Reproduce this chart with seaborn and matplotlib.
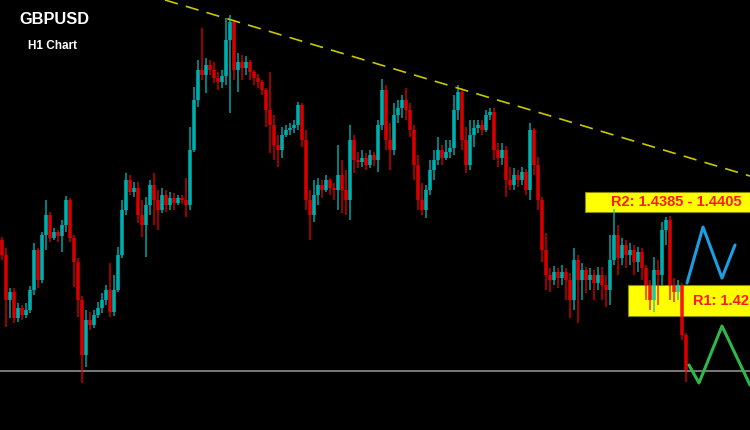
import numpy as np
import pandas as pd
import matplotlib
matplotlib.use("Agg")
import matplotlib.pyplot as plt
import seaborn as sns

# ---------------- data (GBPUSD H1) ----------------
first_open = 1.4360
closes = [
    1.4345, 1.4300, 1.4308, 1.4282, 1.4292, 1.4285, 1.4290, 1.4310, 1.4350, 1.4320,
    1.4365, 1.4385, 1.4362, 1.4368, 1.4364, 1.4375, 1.4400, 1.4362, 1.4338, 1.4300,
    1.4245, 1.4280, 1.4275, 1.4285, 1.4292, 1.4300, 1.4310, 1.4288, 1.4310, 1.4345,
    1.4390, 1.4420, 1.4408, 1.4412, 1.4385, 1.4375, 1.4395, 1.4415, 1.4400, 1.4390,
    1.4405, 1.4395, 1.4402, 1.4397, 1.4402, 1.4400, 1.4395, 1.4450, 1.4500, 1.4530,
    1.4525, 1.4535, 1.4530, 1.4522, 1.4518, 1.4524, 1.4560, 1.4578, 1.4530, 1.4538,
    1.4532, 1.4538, 1.4528, 1.4522, 1.4518, 1.4510, 1.4490, 1.4475, 1.4455, 1.4450,
    1.4465, 1.4470, 1.4472, 1.4475, 1.4495, 1.4460, 1.4400, 1.4385, 1.4405, 1.4415,
    1.4410, 1.4420, 1.4412, 1.4410, 1.4425, 1.4410, 1.4400, 1.4460, 1.4440, 1.4438,
    1.4442, 1.4435, 1.4445, 1.4440, 1.4475, 1.4510, 1.4460, 1.4450, 1.4485, 1.4492,
    1.4500, 1.4490, 1.4470, 1.4435, 1.4400, 1.4390, 1.4410, 1.4430, 1.4440, 1.4450,
    1.4442, 1.4448, 1.4452, 1.4490, 1.4508, 1.4460, 1.4435, 1.4465, 1.4472, 1.4475,
    1.4470, 1.4485, 1.4488, 1.4450, 1.4442, 1.4450, 1.4420, 1.4415, 1.4425, 1.4420,
    1.4428, 1.4410, 1.4470, 1.4435, 1.4400, 1.4350, 1.4325, 1.4320, 1.4328, 1.4322,
    1.4328, 1.4320, 1.4300, 1.4340, 1.4320, 1.4330, 1.4320, 1.4325, 1.4317, 1.4325,
    1.4315, 1.4310, 1.4340, 1.4365, 1.4342, 1.4355, 1.4345, 1.4350, 1.4338, 1.4348,
    1.4332, 1.4315, 1.4300, 1.4330, 1.4325, 1.4370, 1.4380, 1.4315, 1.4308, 1.4315,
    1.4265, 1.4230,
]
highs = [
    1.4363, 1.4352, 1.4312, 1.4312, 1.4297, 1.4295, 1.4297, 1.4314, 1.4357, 1.4352,
    1.4368, 1.4400, 1.4388, 1.4372, 1.4370, 1.4380, 1.4404, 1.4402, 1.4365, 1.4342,
    1.4304, 1.4290, 1.4288, 1.4290, 1.4298, 1.4307, 1.4315, 1.4337, 1.4325, 1.4353,
    1.4400, 1.4427, 1.4425, 1.4418, 1.4418, 1.4400, 1.4403, 1.4420, 1.4427, 1.4410,
    1.4412, 1.4410, 1.4408, 1.4407, 1.4405, 1.4405, 1.4422, 1.4473, 1.4513, 1.4540,
    1.4572, 1.4542, 1.4540, 1.4538, 1.4528, 1.4530, 1.4582, 1.4585, 1.4580, 1.4547,
    1.4545, 1.4544, 1.4540, 1.4530, 1.4526, 1.4520, 1.4512, 1.4528, 1.4485, 1.4465,
    1.4473, 1.4475, 1.4477, 1.4480, 1.4498, 1.4497, 1.4470, 1.4410, 1.4420, 1.4422,
    1.4420, 1.4425, 1.4422, 1.4417, 1.4455, 1.4440, 1.4430, 1.4475, 1.4465, 1.4448,
    1.4450, 1.4447, 1.4450, 1.4448, 1.4480, 1.4521, 1.4515, 1.4477, 1.4497, 1.4500,
    1.4505, 1.4512, 1.4497, 1.4475, 1.4445, 1.4417, 1.4415, 1.4440, 1.4450, 1.4463,
    1.4455, 1.4460, 1.4460, 1.4505, 1.4515, 1.4512, 1.4473, 1.4480, 1.4480, 1.4480,
    1.4480, 1.4490, 1.4492, 1.4492, 1.4457, 1.4457, 1.4454, 1.4433, 1.4432, 1.4430,
    1.4433, 1.4431, 1.4477, 1.4472, 1.4443, 1.4403, 1.4367, 1.4332, 1.4334, 1.4332,
    1.4335, 1.4332, 1.4327, 1.4352, 1.4345, 1.4337, 1.4333, 1.4332, 1.4330, 1.4333,
    1.4333, 1.4325, 1.4365, 1.4391, 1.4375, 1.4362, 1.4360, 1.4357, 1.4355, 1.4353,
    1.4352, 1.4335, 1.4320, 1.4343, 1.4340, 1.4378, 1.4383, 1.4384, 1.4322, 1.4320,
    1.4317, 1.4267,
]
lows = [
    1.4340, 1.4273, 1.4282, 1.4277, 1.4278, 1.4280, 1.4282, 1.4287, 1.4305, 1.4312,
    1.4317, 1.4350, 1.4358, 1.4360, 1.4358, 1.4348, 1.4368, 1.4358, 1.4313, 1.4283,
    1.4217, 1.4233, 1.4270, 1.4272, 1.4282, 1.4287, 1.4295, 1.4283, 1.4284, 1.4308,
    1.4342, 1.4385, 1.4405, 1.4403, 1.4377, 1.4363, 1.4343, 1.4385, 1.4375, 1.4370,
    1.4387, 1.4388, 1.4390, 1.4390, 1.4395, 1.4396, 1.4383, 1.4390, 1.4448, 1.4493,
    1.4520, 1.4507, 1.4525, 1.4517, 1.4510, 1.4512, 1.4515, 1.4487, 1.4520, 1.4508,
    1.4520, 1.4525, 1.4520, 1.4515, 1.4512, 1.4505, 1.4473, 1.4447, 1.4440, 1.4433,
    1.4442, 1.4463, 1.4465, 1.4467, 1.4470, 1.4453, 1.4390, 1.4360, 1.4378, 1.4395,
    1.4402, 1.4408, 1.4405, 1.4400, 1.4390, 1.4387, 1.4385, 1.4380, 1.4427, 1.4432,
    1.4433, 1.4430, 1.4432, 1.4434, 1.4428, 1.4470, 1.4450, 1.4430, 1.4445, 1.4477,
    1.4482, 1.4480, 1.4463, 1.4420, 1.4390, 1.4385, 1.4382, 1.4405, 1.4420, 1.4435,
    1.4435, 1.4440, 1.4442, 1.4445, 1.4480, 1.4450, 1.4427, 1.4430, 1.4453, 1.4467,
    1.4465, 1.4468, 1.4480, 1.4440, 1.4433, 1.4435, 1.4403, 1.4410, 1.4410, 1.4413,
    1.4415, 1.4405, 1.4400, 1.4425, 1.4390, 1.4338, 1.4310, 1.4308, 1.4315, 1.4312,
    1.4315, 1.4300, 1.4282, 1.4290, 1.4277, 1.4300, 1.4307, 1.4310, 1.4300, 1.4310,
    1.4300, 1.4293, 1.4295, 1.4335, 1.4325, 1.4335, 1.4332, 1.4335, 1.4325, 1.4328,
    1.4320, 1.4300, 1.4290, 1.4288, 1.4295, 1.4315, 1.4355, 1.4300, 1.4298, 1.4300,
    1.4260, 1.4218,
]

symbol = "GBPUSD"
timeframe = "H1 Chart"
r2_label = "R2: 1.4385 - 1.4405"
r1_label = "R1: 1.42"
r2_zone = [1.4388, 1.4408]
r1_zone = [1.4284, 1.4315]
support_level = 1.4229
trend_x = [40.75, 187.0]
trend_y = [1.4600, 1.4424]
up_path_x = [171.25, 175.25, 180.0, 183.25]
up_path_y = [1.4317, 1.4373, 1.4322, 1.4355]
down_path_x = [171.75, 174.25, 180.0, 187.0]
down_path_y = [1.4235, 1.4217, 1.4274, 1.4215]

# ---------------- build ----------------
df = pd.DataFrame({"close": closes, "high": highs, "low": lows})
df["open"] = [first_open] + closes[:-1]
df["idx"] = np.arange(len(df))
df["up"] = df["close"] >= df["open"]

sns.set_style("dark")
plt.rcParams["font.family"] = ["Liberation Sans", "DejaVu Sans"]

fig = plt.figure(figsize=(7.5, 4.3), dpi=100, facecolor="black")
ax = fig.add_axes([0, 0, 1, 1])
ax.set_facecolor("black")
ax.set_xlim(-0.5, 187.0)
ax.set_ylim(1.4170, 1.4600)
ax.axis("off")

# resistance zones
ax.axhspan(r2_zone[0], r2_zone[1], xmin=(145.75 + 0.5) / 187.5, xmax=1,
           facecolor="#ffff00", edgecolor="#8a8a00", lw=0.8, zorder=1)
ax.axhspan(r1_zone[0], r1_zone[1], xmin=(156.5 + 0.5) / 187.5, xmax=1,
           facecolor="#ffff00", edgecolor="#8a8a00", lw=0.8, zorder=1)

# support line
ax.axhline(support_level, color="#7a7a7a", lw=1.4, zorder=2)

# candles
up_col = "#00c4c4"
dn_col = "#f00000"
colors = np.where(df["up"], up_col, dn_col)
body_lo = np.minimum(df["open"], df["close"])
body_h = np.maximum(np.abs(df["close"] - df["open"]), 0.00008)
ax.vlines(df["idx"], df["low"], df["high"], colors=colors, lw=1.3, alpha=0.7, zorder=3)
ax.bar(df["idx"], body_h, bottom=body_lo, width=0.8, color=colors,
       alpha=0.7, linewidth=0, zorder=3)

# trend line
sns.lineplot(x=trend_x, y=trend_y, ax=ax, color="#c8c800", lw=1.2,
             linestyle=(0, (8, 5)), zorder=4)

# projection paths
sns.lineplot(x=up_path_x, y=up_path_y, ax=ax, color="#1a9fe3", lw=2.2,
             sort=False, zorder=5)
sns.lineplot(x=down_path_x, y=down_path_y, ax=ax, color="#2fb84a", lw=2.2,
             sort=False, zorder=5)

# labels
ax.text(168.6, (r2_zone[0] + r2_zone[1]) / 2, r2_label, color="#ff1a1a",
        fontsize=10.5, fontweight="bold", ha="center", va="center", zorder=6)
ax.text(186.7, (r1_zone[0] + r1_zone[1]) / 2, r1_label, color="#ff1a1a",
        fontsize=10.5, fontweight="bold", ha="right", va="center", zorder=6)

fig.text(54 / 750, 1 - 20 / 430, symbol, color="white", fontsize=11.8,
         fontweight="bold", ha="center", va="center")
fig.text(53 / 750, 1 - 46 / 430, timeframe, color="white", fontsize=8.5,
         fontweight="bold", ha="center", va="center")

fig.savefig("out.png", dpi=100, facecolor="black")
